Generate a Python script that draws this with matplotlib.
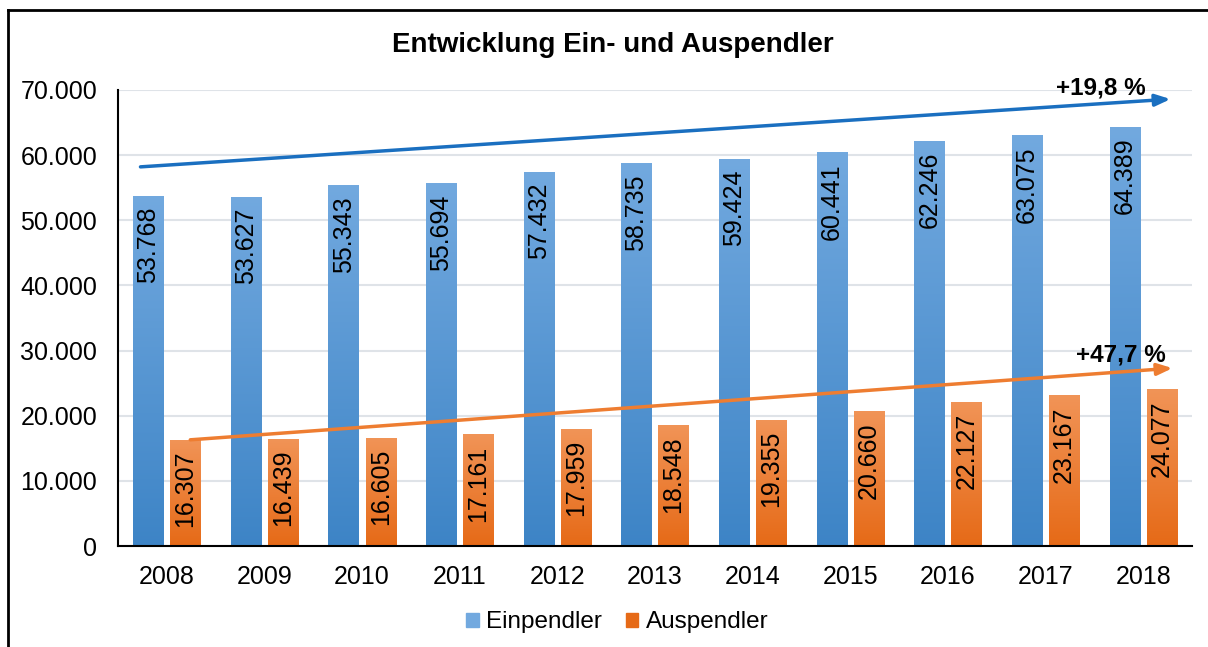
import numpy as np
import matplotlib
matplotlib.use("Agg")
import matplotlib.pyplot as plt
from matplotlib.colors import LinearSegmentedColormap
from matplotlib.lines import Line2D
from matplotlib.ticker import FuncFormatter

plt.rcParams['font.family'] = ['Liberation Sans', 'DejaVu Sans']

years = ['2008', '2009', '2010', '2011', '2012', '2013', '2014', '2015', '2016', '2017', '2018']
einpendler = [53768, 53627, 55343, 55694, 57432, 58735, 59424, 60441, 62246, 63075, 64389]
auspendler = [16307, 16439, 16605, 17161, 17959, 18548, 19355, 20660, 22127, 23167, 24077]

# Trendpfeile (Start/Ende in Datenkoordinaten)
trend_ein = [(-0.27, 58200), (10.28, 68600)]
trend_aus = [(0.24, 16300), (10.3, 27300)]
label_ein = '+19,8 %'
label_aus = '+47,7 %'

blue_top, blue_bot = '#72a9df', '#3d84c6'
orange_top, orange_bot = '#f19457', '#e66a17'


def fmt(v, pos=None):
    return f'{int(v):,}'.replace(',', '.')


def gradient_bars(ax, x, heights, width, top, bottom):
    bars = ax.bar(x, heights, width, color=top, edgecolor='none', zorder=2)
    cmap = LinearSegmentedColormap.from_list('g', [bottom, top])
    grad = np.linspace(0, 1, 256).reshape(-1, 1)
    for b in bars:
        x0, y0 = b.get_x(), b.get_y()
        im = ax.imshow(grad, cmap=cmap, aspect='auto', origin='lower',
                       extent=[x0, x0 + b.get_width(), y0, y0 + b.get_height()], zorder=2)
        im.set_clip_path(b)
    return bars


fig = plt.figure(figsize=(12.08, 6.47), dpi=100)
ax = fig.add_axes([0.0977, 0.1561, 0.8891, 0.7048])

x = np.arange(len(years))
w = 0.31
off = 0.19
b1 = gradient_bars(ax, x - off, einpendler, w, blue_top, blue_bot)
b2 = gradient_bars(ax, x + off, auspendler, w, orange_top, orange_bot)

for bars, vals in ((b1, einpendler), (b2, auspendler)):
    for b, v in zip(bars, vals):
        ax.text(b.get_x() + b.get_width() / 2, v - 1700, fmt(v), rotation=90,
                ha='center', va='top', fontsize=18, color='black', zorder=4)

ax.set_xlim(-0.5, len(years) - 0.5)
ax.set_ylim(0, 70000)
ax.set_yticks(np.arange(0, 70001, 10000))
ax.yaxis.set_major_formatter(FuncFormatter(fmt))
ax.set_xticks(x)
ax.set_xticklabels(years)
ax.tick_params(axis='both', length=0, labelsize=18, colors='black')
ax.tick_params(axis='x', pad=14)
ax.tick_params(axis='y', pad=15)
ax.grid(axis='y', color='#dfe3e8', linewidth=1.5, zorder=0)
ax.set_axisbelow(True)
for s in ('top', 'right'):
    ax.spines[s].set_visible(False)
ax.spines['left'].set_linewidth(1.5)
ax.spines['bottom'].set_linewidth(1.5)
ax.spines['left'].set_zorder(5)
ax.spines['bottom'].set_zorder(5)

# Trendpfeile
for (p0, p1), col in ((trend_ein, '#1a6fc0'), (trend_aus, '#ee7d31')):
    ax.annotate('', xy=p1, xytext=p0,
                arrowprops=dict(arrowstyle='-|>,head_length=0.9,head_width=0.35',
                                color=col, lw=2.5, shrinkA=0, shrinkB=0), zorder=6)
ax.text(9.57, 70300, label_ein, ha='center', va='center', fontsize=17.5,
        fontweight='bold', zorder=6)
ax.text(9.77, 29300, label_aus, ha='center', va='center', fontsize=17.5,
        fontweight='bold', zorder=6)

fig.text(0.507, 0.93, 'Entwicklung Ein- und Auspendler', ha='center', va='center',
         fontsize=20, fontweight='bold')

leg = fig.legend([plt.Rectangle((0, 0), 1, 1, color=blue_top),
                  plt.Rectangle((0, 0), 1, 1, color=orange_bot)],
                 ['Einpendler', 'Auspendler'], loc='center', bbox_to_anchor=(0.511, 0.038),
                 ncol=2, frameon=False, fontsize=17.5, handlelength=0.5, handleheight=0.5,
                 handletextpad=0.3, columnspacing=1.0)

# Rahmen links und oben
fig.add_artist(Line2D([8 / 1208, 8 / 1208], [0, 1 - 10 / 647], transform=fig.transFigure,
                      color='black', lw=2))
fig.add_artist(Line2D([8 / 1208, 1], [1 - 10 / 647, 1 - 10 / 647], transform=fig.transFigure,
                      color='black', lw=2))

fig.savefig('out.png', dpi=100)
